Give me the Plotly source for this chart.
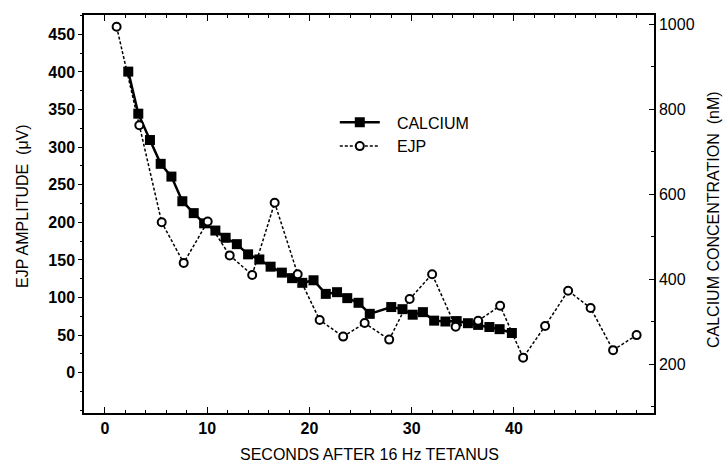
import plotly.graph_objects as go

# Calcium concentration (nM), right axis
calcium_t = [2.28, 3.26, 4.4, 5.45, 6.5, 7.57, 8.68, 9.7, 10.8, 11.8, 12.9, 14.0, 15.1, 16.2,
             17.3, 18.3, 19.3, 20.4, 21.6, 22.7, 23.7, 24.8, 25.9, 28.0, 29.1, 30.1, 31.1,
             32.2, 33.3, 34.4, 35.5, 36.5, 37.6, 38.6, 39.8]
calcium_nM = [888, 789, 727, 671, 641, 583, 555, 531, 514, 497, 482, 458, 446, 429,
              415, 402, 391, 397, 365, 369, 355, 344, 318, 334, 329, 316, 322,
              302, 300, 301, 296, 292, 287, 282, 273]

# EJP amplitude (uV), left axis
ejp_t = [1.14, 3.36, 5.55, 7.7, 10.05, 12.2, 14.4, 16.6, 18.85, 21.0, 23.3, 25.4, 27.8,
         29.8, 32.0, 34.3, 36.5, 38.65, 40.9, 43.05, 45.3, 47.5, 49.7, 52.0]
ejp_uV = [460, 329, 200, 146, 201, 156, 130, 226, 131, 70, 48, 66, 44,
          98, 131, 61, 69, 89, 20, 62, 109, 86, 30, 50]

x_ticks = [0, 10, 20, 30, 40]
left_ticks = [0, 50, 100, 150, 200, 250, 300, 350, 400, 450]
right_ticks = [200, 400, 600, 800, 1000]

FONT = "Liberation Sans, Arial, Helvetica, sans-serif"
NB = "\u00a0\u00a0\u2009"

fig = go.Figure()
fig.add_trace(go.Scatter(
    x=calcium_t, y=calcium_nM, name=NB + "CALCIUM", mode="lines+markers",
    line=dict(color="black", width=2.5),
    marker=dict(symbol="square", size=10, color="black"),
    yaxis="y"))
fig.add_trace(go.Scatter(
    x=ejp_t, y=ejp_uV, name=NB + "EJP", mode="lines+markers",
    line=dict(color="black", width=1.5, dash="3px,2px"),
    marker=dict(symbol="circle", size=8, color="white", line=dict(color="black", width=2)),
    yaxis="y2"))

fig.update_layout(
    width=727, height=464,
    margin=dict(l=84, r=73, t=15, b=51),
    paper_bgcolor="white", plot_bgcolor="white",
    font=dict(family=FONT, size=16, color="black"),
    showlegend=True,
    legend=dict(x=0.44, y=0.70, xanchor="left", yanchor="middle",
                bgcolor="rgba(0,0,0,0)", font=dict(size=16), itemwidth=40,
                tracegroupgap=0),
    xaxis=dict(range=[-2.05, 53.7], tickvals=x_ticks, ticks="inside", ticklen=6,
               tickcolor="black", showline=True, linecolor="black", linewidth=1.5,
               mirror="ticks", showgrid=False, zeroline=False,
               minor=dict(dtick=2, ticks="inside", ticklen=3, tickcolor="black"),
               tickfont=dict(size=16, weight="bold")),
    yaxis=dict(range=[84.7, 1021.2], side="right", tickvals=right_ticks,
               ticks="inside", ticklen=5, tickcolor="black",
               showline=True, linecolor="black", linewidth=1.5,
               showgrid=False, zeroline=False,
               minor=dict(dtick=100, ticks="inside", ticklen=3, tickcolor="black"),
               tickfont=dict(size=16)),
    yaxis2=dict(range=[-53.6, 475.7], side="left", overlaying="y", tickvals=left_ticks,
                ticks="outside", ticklen=4, tickcolor="black",
                showline=True, linecolor="black", linewidth=1.5,
                showgrid=False, zeroline=False,
                minor=dict(dtick=25, ticks="outside", ticklen=2, tickcolor="black"),
                tickfont=dict(size=16, weight="bold")),
    annotations=[
        dict(text="SECONDS AFTER 16 Hz TETANUS", xref="paper", yref="paper", x=0.5, y=0,
             xanchor="center", yanchor="middle", yshift=-41, showarrow=False,
             font=dict(size=16)),
        dict(text="EJP AMPLITUDE  (\u03bcV)", xref="paper", yref="paper", x=0, y=0.5,
             xanchor="center", yanchor="middle", xshift=-62, yshift=8, textangle=-90,
             showarrow=False, font=dict(size=16)),
        dict(text="CALCIUM CONCENTRATION  (nM)", xref="paper", yref="paper", x=1, y=0.5,
             xanchor="center", yanchor="middle", xshift=59, yshift=-6, textangle=-90,
             showarrow=False, font=dict(size=16)),
    ],
)

fig.write_html("out.html", config={"displayModeBar": False},
               post_script="document.body.style.margin='0px';")
